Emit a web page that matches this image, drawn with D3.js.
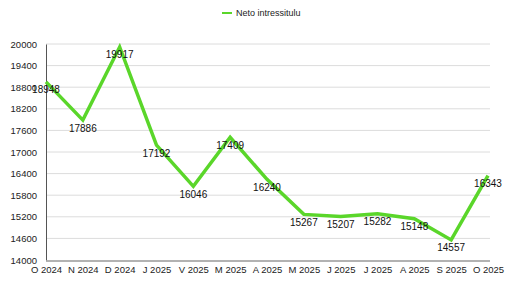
<!DOCTYPE html>
<html>
<head>
<meta charset="utf-8">
<script src="https://cdn.jsdelivr.net/npm/d3@7"></script>
<style>
body { margin: 0; background: #fff; }
text { font-family: "Liberation Sans", Arial, sans-serif; }
</style>
</head>
<body>
<script>
// kuud ja väärtused
var months = ["O 2024","N 2024","D 2024","J 2025","V 2025","M 2025","A 2025","M 2025","J 2025","J 2025","A 2025","S 2025","O 2025"];
var values = [18948,17886,19917,17192,16046,17409,16240,15267,15207,15282,15148,14557,16343];
var yTicks = [14000,14600,15200,15800,16400,17000,17600,18200,18800,19400,20000];
var seriesName = "Neto intressitulu";

var W = 517, H = 287;
var svg = d3.select("body").append("svg").attr("width", W).attr("height", H);

var x = d3.scalePoint().domain(d3.range(months.length)).range([46, 488]);
var y = d3.scaleLinear().domain([14000, 20000]).range([260, 44]);

// ruudustik
svg.selectAll("line.grid")
  .data(yTicks.slice(1))
  .enter()
  .append("line")
  .attr("x1", 46).attr("x2", 490)
  .attr("y1", function(d){ return y(d); })
  .attr("y2", function(d){ return y(d); })
  .attr("stroke", "#dcdcdc")
  .attr("stroke-width", 1);

// y telg
var yAxis = svg.append("g").attr("transform", "translate(46,0)")
  .call(d3.axisLeft(y).tickValues(yTicks).tickFormat(d3.format("d")).tickSize(0).tickPadding(9));
yAxis.select(".domain").attr("stroke", "#555").attr("stroke-width", 1);
yAxis.selectAll("text").attr("font-size", 9.5).attr("fill", "#222");

// x telg
var xAxis = svg.append("g").attr("transform", "translate(0,261)")
  .call(d3.axisBottom(x).tickSize(0).tickPadding(5).tickFormat(function(i){ return months[i]; }));
xAxis.select(".domain").remove();
xAxis.selectAll("text").attr("font-size", 9.5).attr("fill", "#222");
svg.append("line").attr("x1", 46).attr("x2", 490).attr("y1", 261).attr("y2", 261)
  .attr("stroke", "#999").attr("stroke-width", 1.5);

// joon
var line = d3.line()
  .x(function(d, i){ return x(i); })
  .y(function(d){ return y(d); });

svg.append("path")
  .datum(values)
  .attr("d", line)
  .attr("fill", "none")
  .attr("stroke", "#5ad62a")
  .attr("stroke-width", 3.5)
  .attr("stroke-linejoin", "miter");

// väärtuste sildid
svg.selectAll("text.lbl")
  .data(values)
  .enter()
  .append("text")
  .attr("class", "lbl")
  .attr("x", function(d, i){ return x(i); })
  .attr("y", function(d){ return y(d) + 8; })
  .attr("dy", "0.35em")
  .attr("text-anchor", "middle")
  .attr("font-size", 10)
  .attr("fill", "#111")
  .text(function(d){ return d; });

// legend
svg.append("line").attr("x1", 222).attr("x2", 232).attr("y1", 13).attr("y2", 13)
  .attr("stroke", "#5ad62a").attr("stroke-width", 2);
svg.append("text").attr("x", 236).attr("y", 13).attr("dy", "0.35em")
  .attr("font-size", 9).attr("fill", "#222").text(seriesName);
</script>
</body>
</html>
